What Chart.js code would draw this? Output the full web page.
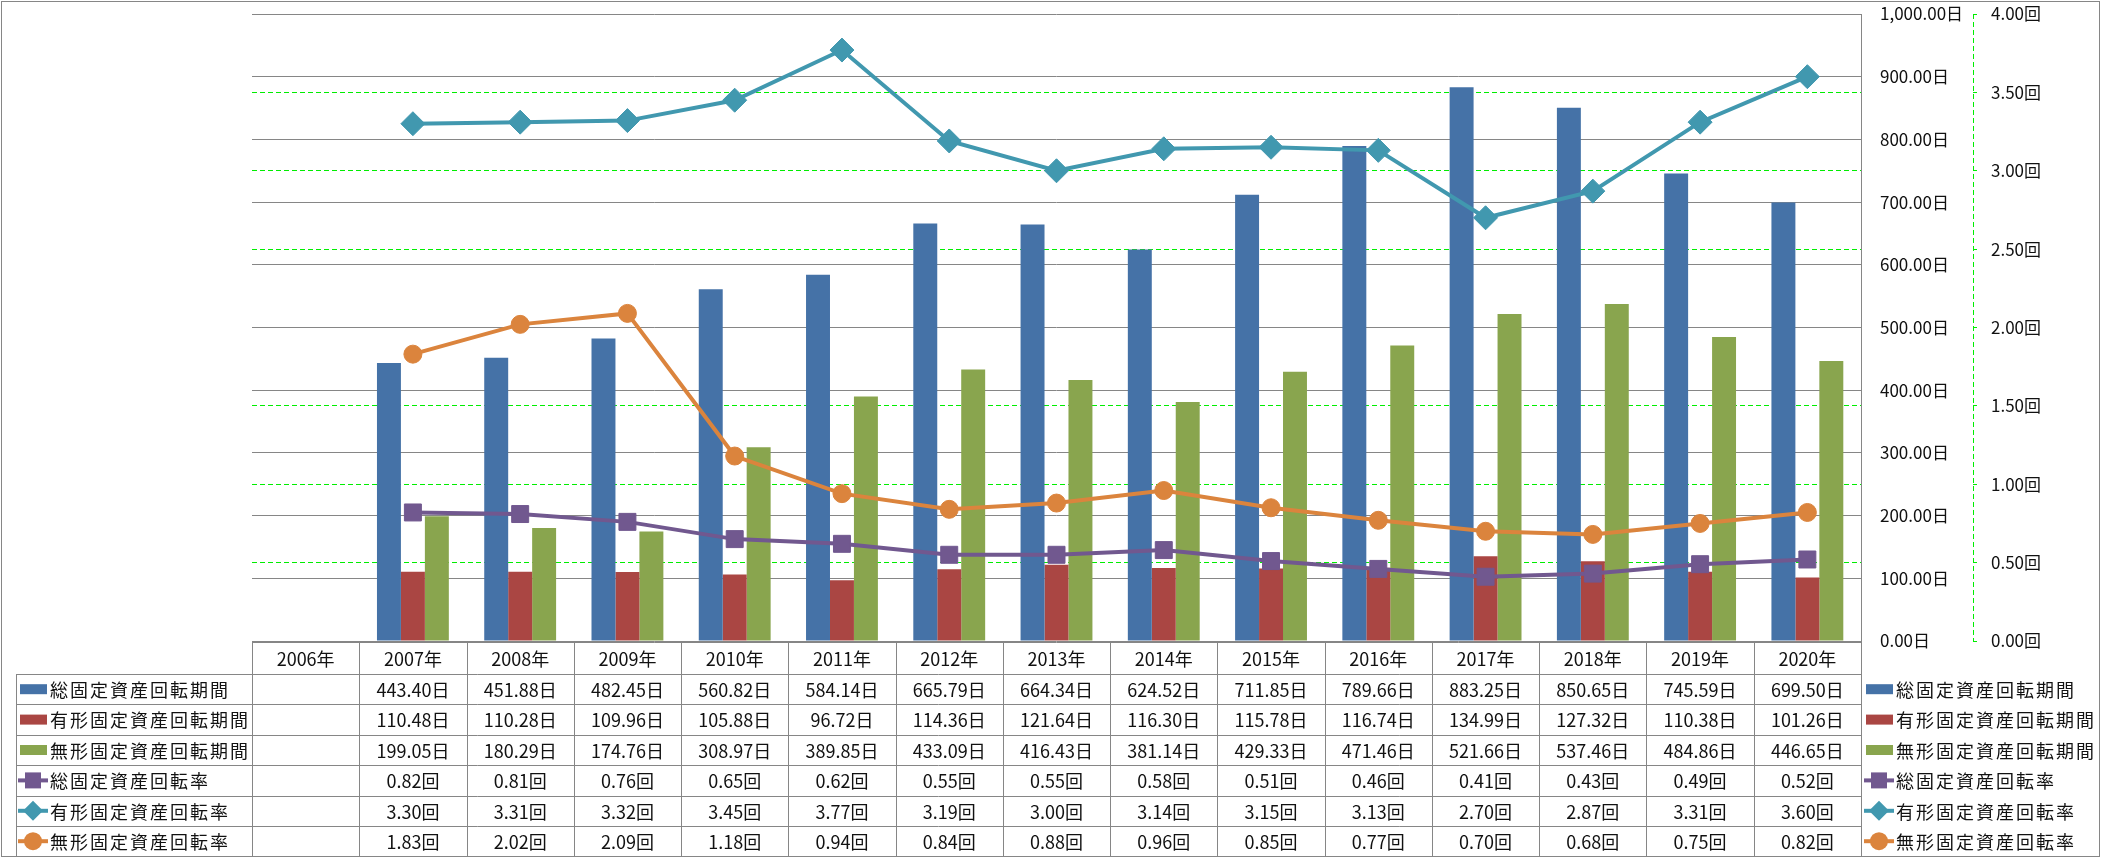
<!DOCTYPE html>
<html>
<head>
    <title>固定資産回転期間・回転率</title>
    <meta charset="UTF-8">
    <style>
        html, body { margin: 0; padding: 0; background: #fff; }
        #chart-holder { width: 2101px; height: 858px; }
    </style>
</head>
<body>
<div id="chart-holder">
    <canvas id="grafica-activos" width="2101" height="858"></canvas>
</div>
<script src="https://cdn.jsdelivr.net/npm/chart.js@4.4.1/dist/chart.umd.min.js"></script>
<script>
    // datos
    var years = ['2006年', '2007年', '2008年', '2009年', '2010年', '2011年', '2012年', '2013年',
        '2014年', '2015年', '2016年', '2017年', '2018年', '2019年', '2020年'];

    var totalPeriod = [null, 443.40, 451.88, 482.45, 560.82, 584.14, 665.79, 664.34, 624.52, 711.85, 789.66, 883.25, 850.65, 745.59, 699.50];
    var tangiblePeriod = [null, 110.48, 110.28, 109.96, 105.88, 96.72, 114.36, 121.64, 116.30, 115.78, 116.74, 134.99, 127.32, 110.38, 101.26];
    var intangiblePeriod = [null, 199.05, 180.29, 174.76, 308.97, 389.85, 433.09, 416.43, 381.14, 429.33, 471.46, 521.66, 537.46, 484.86, 446.65];
    var totalRate = [null, 0.82, 0.81, 0.76, 0.65, 0.62, 0.55, 0.55, 0.58, 0.51, 0.46, 0.41, 0.43, 0.49, 0.52];
    var tangibleRate = [null, 3.30, 3.31, 3.32, 3.45, 3.77, 3.19, 3.00, 3.14, 3.15, 3.13, 2.70, 2.87, 3.31, 3.60];
    var intangibleRate = [null, 1.83, 2.02, 2.09, 1.18, 0.94, 0.84, 0.88, 0.96, 0.85, 0.77, 0.70, 0.68, 0.75, 0.82];

    var seriesNames = ['総固定資産回転期間', '有形固定資産回転期間', '無形固定資産回転期間',
        '総固定資産回転率', '有形固定資産回転率', '無形固定資産回転率'];
    var dayUnit = '日';
    var timesUnit = '回';

    var FONT = '"Noto Sans CJK JP", "Noto Sans", sans-serif';
    var GRAY = '#868686';
    var GREEN = '#00ee00';

    var rows = [
        {values: totalPeriod, unit: dayUnit, color: '#4572A7', kind: 'bar'},
        {values: tangiblePeriod, unit: dayUnit, color: '#AA4643', kind: 'bar'},
        {values: intangiblePeriod, unit: dayUnit, color: '#89A54E', kind: 'bar'},
        {values: totalRate, unit: timesUnit, color: '#71588F', kind: 'rect'},
        {values: tangibleRate, unit: timesUnit, color: '#4198AF', kind: 'rectRot'},
        {values: intangibleRate, unit: timesUnit, color: '#DB843D', kind: 'circle'}
    ];

    function drawKey(ctx, row, x, y) {
        ctx.save();
        ctx.fillStyle = row.color;
        ctx.strokeStyle = row.color;
        if (row.kind === 'bar') {
            ctx.fillRect(x, y - 5, 27, 10);
        } else {
            ctx.lineWidth = 4;
            ctx.beginPath();
            ctx.moveTo(x - 2, y);
            ctx.lineTo(x + 28, y);
            ctx.stroke();
            var cx = x + 13;
            ctx.beginPath();
            if (row.kind === 'rect') {
                ctx.rect(cx - 8, y - 8, 16, 16);
            } else if (row.kind === 'rectRot') {
                ctx.moveTo(cx, y - 10);
                ctx.lineTo(cx + 10, y);
                ctx.lineTo(cx, y + 10);
                ctx.lineTo(cx - 10, y);
                ctx.closePath();
            } else {
                ctx.arc(cx, y, 9, 0, Math.PI * 2);
            }
            ctx.fill();
        }
        ctx.restore();
    }

    // tabla de datos + leyenda + eje secundario punteado
    var tablePlugin = {
        id: 'tablaDatos',
        afterDraw: function (c) {
            var ctx = c.ctx;
            var area = c.chartArea;
            var colW = (area.right - area.left) / years.length;
            var headTop = 642, rowTop = 674, rowH = 30.4;
            var bottom = rowTop + rowH * rows.length;
            var labelLeft = 16;

            ctx.save();
            ctx.strokeStyle = GRAY;
            ctx.lineWidth = 1;
            ctx.beginPath();
            ctx.moveTo(area.left, headTop + 0.5);
            ctx.lineTo(area.right, headTop + 0.5);
            for (var i = 0; i <= rows.length; i++) {
                var ly = Math.round(rowTop + i * rowH) + 0.5;
                ctx.moveTo(labelLeft, ly);
                ctx.lineTo(area.right, ly);
            }
            ctx.moveTo(labelLeft + 0.5, rowTop);
            ctx.lineTo(labelLeft + 0.5, bottom);
            for (var k = 0; k <= years.length; k++) {
                var lx = Math.round(area.left + k * colW) + 0.5;
                ctx.moveTo(lx, headTop);
                ctx.lineTo(lx, bottom);
            }
            ctx.stroke();

            ctx.fillStyle = '#111';
            ctx.textBaseline = 'middle';
            ctx.textAlign = 'center';
            ctx.font = '18px ' + FONT;
            years.forEach(function (y, k) {
                ctx.fillText(y, area.left + (k + 0.5) * colW, (headTop + rowTop) / 2 + 1);
            });

            rows.forEach(function (row, r) {
                var cy = rowTop + (r + 0.5) * rowH + 1;
                row.values.forEach(function (v, k) {
                    if (v === null) return;
                    ctx.textAlign = 'center';
                    ctx.fillText(v.toFixed(2) + row.unit, area.left + (k + 0.5) * colW, cy);
                });
                drawKey(ctx, row, labelLeft + 4, cy - 1);
                ctx.textAlign = 'left';
                ctx.letterSpacing = '2px';
                ctx.fillText(seriesNames[r], labelLeft + 34, cy);
                // leyenda a la derecha
                drawKey(ctx, row, 1866, cy - 1);
                ctx.fillText(seriesNames[r], 1896, cy);
                ctx.letterSpacing = '0px';
            });

            // linea del eje secundario
            var y2 = c.scales.y2;
            ctx.strokeStyle = GREEN;
            ctx.setLineDash([5, 3]);
            ctx.beginPath();
            ctx.moveTo(Math.round(y2.left) + 0.5, y2.top);
            ctx.lineTo(Math.round(y2.left) + 0.5, y2.bottom);
            ctx.stroke();
            ctx.setLineDash([]);

            // borde exterior
            ctx.strokeStyle = GRAY;
            ctx.strokeRect(1.5, 1.5, c.width - 3, c.height - 3);
            ctx.restore();
        }
    };

    function lineSet(idx, data, style, radius) {
        return {
            type: 'line',
            label: seriesNames[idx],
            data: data,
            yAxisID: 'y2',
            order: 0,
            borderColor: rows[idx].color,
            backgroundColor: rows[idx].color,
            borderWidth: 4,
            pointStyle: style,
            pointRadius: radius,
            pointBorderWidth: 1,
            pointBorderColor: rows[idx].color,
            pointBackgroundColor: rows[idx].color,
            tension: 0
        };
    }

    function barSet(idx, data) {
        return {
            type: 'bar',
            label: seriesNames[idx],
            data: data,
            yAxisID: 'y',
            order: 1,
            backgroundColor: rows[idx].color,
            categoryPercentage: 0.67,
            barPercentage: 1.0
        };
    }

    var chartCtx = document.getElementById('grafica-activos').getContext('2d');
    var activosChart = new Chart(chartCtx, {
        type: 'bar',
        data: {
            labels: years,
            datasets: [
                barSet(0, totalPeriod),
                barSet(1, tangiblePeriod),
                barSet(2, intangiblePeriod),
                lineSet(3, totalRate, 'rect', 12),
                lineSet(4, tangibleRate, 'rectRot', 12),
                lineSet(5, intangibleRate, 'circle', 9)
            ]
        },
        options: {
            responsive: false,
            animation: false,
            layout: {padding: {left: 252, top: 14, right: 0, bottom: 217}},
            plugins: {legend: {display: false}, tooltip: {enabled: false}},
            scales: {
                x: {display: false, offset: true},
                y: {
                    position: 'right',
                    min: 0,
                    max: 1000,
                    afterFit: function (s) { s.width = 112; s.paddingTop = 0; s.paddingBottom = 0; },
                    grid: {color: GRAY, lineWidth: 1, drawTicks: false},
                    border: {display: true, color: GRAY, width: 1},
                    ticks: {
                        stepSize: 100,
                        padding: 19,
                        color: '#111',
                        font: {family: FONT, size: 17},
                        callback: function (v) {
                            return v.toLocaleString('en-US', {minimumFractionDigits: 2, maximumFractionDigits: 2}) + dayUnit;
                        }
                    }
                },
                y2: {
                    position: 'right',
                    min: 0,
                    max: 4,
                    afterFit: function (s) { s.width = 128; s.paddingTop = 0; s.paddingBottom = 0; },
                    grid: {
                        color: function (g) {
                            var v = g.tick ? g.tick.value : 0;
                            return (v === 0 || v === 2 || v === 4) ? 'rgba(0,0,0,0)' : GREEN;
                        },
                        tickColor: GREEN,
                        lineWidth: 1,
                        drawTicks: true,
                        tickLength: 4
                    },
                    border: {display: false, dash: [5, 3]},
                    ticks: {
                        stepSize: 0.5,
                        padding: 14,
                        color: '#111',
                        font: {family: FONT, size: 17},
                        callback: function (v) { return v.toFixed(2) + timesUnit; }
                    }
                }
            }
        },
        plugins: [tablePlugin]
    });
</script>
</body>
</html>
